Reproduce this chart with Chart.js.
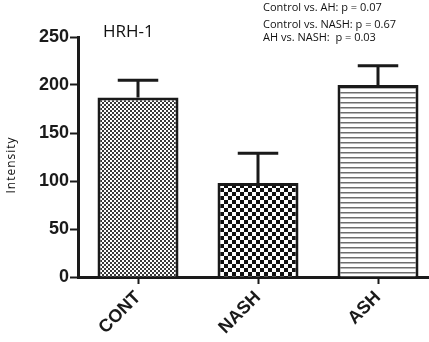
<!DOCTYPE html>
<html lang="en">
<head>
<meta charset="UTF-8">
<title>HRH-1 intensity</title>
<script src="https://cdn.jsdelivr.net/npm/chart.js"></script>
<style>
  html, body { margin: 0; padding: 0; background: #fff; overflow: hidden; }
  #wrap { width: 440px; height: 342px; }
</style>
</head>
<body>
<div id="wrap"><canvas id="chartHrh" width="440" height="342"></canvas></div>
<script>
// data
const groups = ['CONT', 'NASH', 'ASH'];
const means = [187, 98, 200];
const errors = [18, 31, 20];   // upper error (SEM)
const yTicks = [0, 50, 100, 150, 200, 250];
const panelTitle = 'HRH-1';
const yTitle = 'Intensity';
const pNotes = ['Control vs. AH: p = 0.07', 'Control vs. NASH: p = 0.67', 'AH vs. NASH:  p = 0.03'];

// fill patterns
function makePattern(size, draw) {
    const c = document.createElement('canvas');
    c.width = size; c.height = size;
    const g = c.getContext('2d');
    g.fillStyle = '#fff';
    g.fillRect(0, 0, size, size);
    draw(g);
    return document.getElementById('chartHrh').getContext('2d').createPattern(c, 'repeat');
}
const fineCheck = makePattern(4, g => {
    g.fillStyle = '#3a3a3a';
    g.fillRect(0, 0, 2, 2);
    g.fillRect(2, 2, 2, 2);
});
const coarseCheck = makePattern(8, g => {
    g.fillStyle = '#111';
    g.fillRect(0, 0, 4, 4);
    g.fillRect(4, 4, 4, 4);
});
const stripes = makePattern(5, g => {
    g.fillStyle = '#6e6e6e';
    g.fillRect(0, 2, 5, 1.5);
});

// error bars + text
const extras = {
    id: 'extras',
    afterDatasetsDraw(chart) {
        const ctx = chart.ctx;
        const y = chart.scales.y;
        const meta = chart.getDatasetMeta(0);
        ctx.save();
        ctx.strokeStyle = '#1a1a1a';
        ctx.lineWidth = 3;
        meta.data.forEach((bar, i) => {
            const top = y.getPixelForValue(means[i]);
            const hi = y.getPixelForValue(means[i] + errors[i]);
            const half = bar.width / 4;
            ctx.beginPath();
            ctx.moveTo(bar.x, top);
            ctx.lineTo(bar.x, hi);
            ctx.moveTo(bar.x - half, hi);
            ctx.lineTo(bar.x + half, hi);
            ctx.stroke();
        });

        ctx.fillStyle = '#111';
        ctx.textBaseline = 'middle';
        ctx.textAlign = 'left';
        ctx.font = '17px "Open Sans"';
        ctx.fillText(panelTitle, 103, 32);

        ctx.font = '11px "Open Sans"';
        pNotes.forEach((t, i) => ctx.fillText(t, 263, [8, 25, 38][i]));

        ctx.translate(12, 165);
        ctx.rotate(-Math.PI / 2);
        ctx.textAlign = 'center';
        ctx.font = '12px "Open Sans"';
        ctx.letterSpacing = '1px';
        ctx.fillText(yTitle, 0, 0);
        ctx.restore();
    }
};

new Chart(document.getElementById('chartHrh'), {
    type: 'bar',
    data: {
        labels: groups,
        datasets: [{
            data: means,
            backgroundColor: [fineCheck, coarseCheck, stripes],
            borderColor: '#1a1a1a',
            borderWidth: 3,
            categoryPercentage: 1,
            barPercentage: 0.675
        }]
    },
    options: {
        responsive: false,
        animation: false,
        layout: { padding: { top: 37, right: 2, left: 0, bottom: 0 } },
        plugins: { legend: { display: false }, tooltip: { enabled: false } },
        scales: {
            x: {
                afterFit: s => { s.height = 65; },
                border: { color: '#1a1a1a', width: 3 },
                grid: { offset: false, drawOnChartArea: false, tickLength: 7, tickColor: '#1a1a1a', tickWidth: 2 },
                ticks: {
                    color: '#1a1a1a', maxRotation: 45, minRotation: 45, padding: 3,
                    font: { family: '"Liberation Sans", Arial', size: 18, weight: 'bold' }
                }
            },
            y: {
                min: 0, max: 250,
                afterFit: s => { s.width = 78; },
                afterBuildTicks: s => { s.ticks = yTicks.map(v => ({ value: v })); },
                border: { color: '#1a1a1a', width: 3 },
                grid: { drawOnChartArea: false, tickLength: 8, tickColor: '#1a1a1a', tickWidth: 2 },
                ticks: {
                    color: '#1a1a1a', padding: 1,
                    font: { family: '"Liberation Sans", Arial', size: 18, weight: 'bold' }
                }
            }
        }
    },
    plugins: [extras]
});
</script>
</body>
</html>
